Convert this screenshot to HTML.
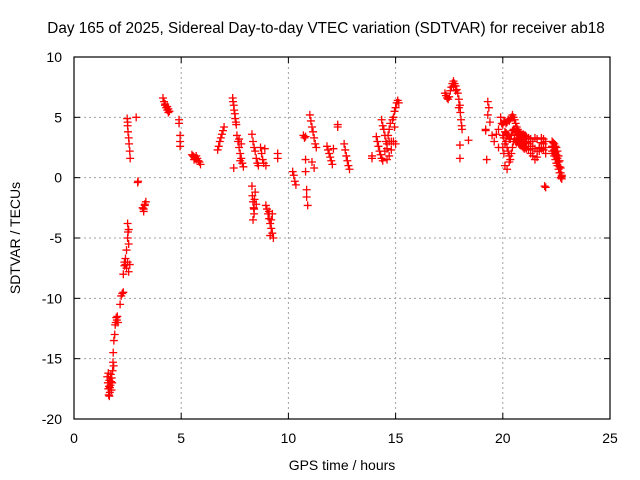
<!DOCTYPE html>
<html><head><meta charset="utf-8"><style>
html,body{margin:0;padding:0;background:#fff;}
svg{display:block;font-family:"Liberation Sans",sans-serif;}
</style></head><body>
<svg id="chart" width="640" height="480">
<text x="326" y="33" font-size="15.3" text-anchor="middle">Day 165 of 2025, Sidereal Day-to-day VTEC variation (SDTVAR) for receiver ab18</text>
<g id="grid"></g>
<g id="axes"></g>
<g id="marks"></g>
<text x="342" y="470" font-size="14" text-anchor="middle">GPS time / hours</text>
<text transform="translate(20,238) rotate(-90)" font-size="14" text-anchor="middle">SDTVAR / TECUs</text>
</svg>
<script>
const xTicks=[0,5,10,15,20,25];
const yTicks=[-20,-15,-10,-5,0,5,10];
const hours=[
1.55,1.58,1.6,1.62,1.65,1.67,1.7,1.72,1.75,1.6,1.65,1.7,1.78,1.8,1.82,1.85,1.83,1.86,1.9,1.92,1.95,1.97,2.0,2.02,2.05,1.68,1.73,1.63,1.76,
2.15,2.2,2.25,2.3,2.3,2.35,2.4,2.45,2.5,2.55,2.4,2.45,2.5,2.35,2.6,2.55,2.5,2.52,2.55,
2.48,2.5,2.52,2.55,2.57,2.6,2.62,2.5,2.9,2.97,2.99,3.2,3.25,3.3,3.35,3.3,3.25,
4.15,4.2,4.25,4.3,4.35,4.4,4.45,4.25,4.35,4.4,4.9,4.9,4.95,4.95,4.95,
5.5,5.55,5.6,5.65,5.7,5.75,5.8,5.85,5.6,5.7,5.9,
6.7,6.75,6.8,6.85,6.9,6.95,7.0,
7.4,7.42,7.45,7.47,7.5,7.52,7.55,7.57,7.6,7.65,7.7,7.75,7.8,7.85,7.9,7.7,7.8,7.75,7.45,
8.3,8.35,8.4,8.45,8.5,8.55,8.6,8.3,8.32,8.35,8.38,8.4,8.42,8.45,8.5,8.35,8.4,
8.7,8.75,8.8,8.85,8.9,8.95,8.95,9.0,9.05,9.1,9.15,9.2,9.25,9.3,9.1,9.2,9.15,9.25,9.5,9.5,
10.2,10.25,10.3,10.35,10.7,10.75,10.8,10.8,10.85,10.85,10.9,10.8,
11.0,11.05,11.1,11.15,11.2,11.25,11.3,11.1,11.2,11.8,11.85,11.9,11.95,12.0,12.05,12.1,12.3,12.3,
12.6,12.65,12.7,12.75,12.8,12.85,13.9,13.9,14.1,14.15,14.2,14.25,14.3,14.35,14.4,
14.35,14.4,14.45,14.5,14.55,14.6,14.65,14.7,14.75,14.8,14.85,14.9,14.95,15.0,15.05,15.1,15.15,14.5,14.6,14.7,14.9,15.0,14.8,14.6,14.7,14.95,
17.3,17.35,17.4,17.45,17.5,17.55,17.6,17.65,17.7,17.75,17.8,17.85,17.9,17.95,18.0,18.02,18.05,18.08,18.1,18.0,18.0,18.4,17.95,17.7,17.8,
19.3,19.35,19.3,19.4,19.2,19.25,19.2,19.5,19.6,19.7,19.8,19.9,19.95,19.8,
20.0,20.05,20.1,20.15,20.2,20.25,20.3,20.35,20.4,20.45,20.5,20.55,20.6,20.65,20.7,20.75,20.8,20.85,20.9,20.95,21.0,
20.0,20.05,20.1,20.15,20.2,20.25,20.3,20.35,20.4,20.45,20.5,20.55,20.6,20.65,20.7,20.75,20.8,20.85,20.9,20.95,21.0,
20.0,20.05,20.1,20.15,20.2,20.25,20.3,20.35,20.4,20.45,20.5,20.55,20.6,20.65,20.7,20.75,20.8,20.85,20.9,20.95,21.0,
20.1,20.2,20.3,
21.05,21.1,21.2,21.3,21.4,21.5,21.6,21.7,21.8,21.9,22.0,
21.05,21.1,21.2,21.3,21.4,21.5,21.6,21.7,21.8,21.9,22.0,
21.05,21.1,21.2,21.3,21.4,21.5,21.6,21.7,21.8,21.9,22.0,
21.95,22.0,
22.3,22.35,22.4,22.45,22.5,22.55,22.6,22.65,22.7,22.75,
22.3,22.35,22.4,22.45,22.5,22.55,22.6,22.65,22.7,22.75,
22.3,22.35,22.4,22.45,22.5,22.55,22.6,22.65,22.7,22.75
];
const tecu=[
-16.5,-17,-17.5,-18,-16.8,-17.8,-17.2,-16.3,-17.6,-16.2,-18.1,-16.6,-17,-16,-15.3,-15.6,-14.5,-13.5,-13,-12.2,-12,-11.6,-11.8,-11.5,-12,-17.4,-16.9,-17.3,-16.6,
-10.5,-9.8,-9.6,-9.5,-8,-7,-6.7,-6,-5,-4.3,-7.2,-7.5,-7,-7.3,-7.2,-7.8,-3.8,-4.5,-5.5,
4.9,4.3,3.8,3.3,2.8,2.2,1.6,4.6,5,-0.4,-0.3,-2.5,-2.8,-2.3,-2,-2.2,-2.6,
6.6,6.3,6.0,5.8,5.6,5.7,5.5,6.1,5.9,5.4,4.8,4.5,3.5,3.0,2.6,
1.9,1.8,1.7,1.6,1.5,1.6,1.4,1.3,1.5,1.8,1.1,
2.3,2.6,3.0,3.3,3.6,3.9,4.2,
6.6,6.3,6.0,5.6,5.3,4.9,4.6,4.4,3.5,3.0,2.5,2.0,1.6,1.2,0.9,3.2,2.8,1.4,0.8,
3.6,3.0,2.5,2.2,1.6,1.2,1.0,-0.7,-1.5,-2.0,-2.5,-3.0,-1.8,-1.2,-2.2,-3.5,-2.6,
2.5,2.0,1.5,1.2,2.4,1.0,-2.3,-2.6,-3.0,-3.4,-3.8,-4.2,-4.6,-5.0,-2.8,-3.5,-4.8,-3.0,2.0,1.6,
0.5,0.2,-0.3,-0.6,3.5,3.3,1.5,0.5,-1.0,-1.6,-2.3,3.4,
5.2,4.7,4.2,3.8,3.3,2.8,2.5,1.3,0.8,2.6,2.3,2.0,1.7,1.4,1.1,2.4,4.4,4.2,
2.8,2.3,1.8,1.4,1.0,0.7,1.8,1.6,3.4,3.0,2.6,2.2,1.9,1.6,1.4,
4.8,4.3,4.0,3.5,3.0,2.8,3.5,4.0,4.5,3.0,4.8,5.0,5.5,5.8,6.2,6.4,6.2,2.2,1.5,1.8,3.0,2.8,2.3,2.4,3.0,4.2,
7.0,6.8,6.6,6.5,6.7,7.2,7.5,7.8,8.0,7.8,7.6,7.3,7.0,6.5,6.0,5.4,4.8,4.3,4.0,2.7,1.6,3.1,5.8,7.6,7.2,
6.3,5.8,5.2,4.6,3.9,1.5,4.0,3.5,3.0,3.6,4.0,5.0,4.5,2.5,
4.4,4.6,4.7,4.5,4.6,4.8,4.7,4.9,5.0,5.2,5.0,4.8,4.5,4.2,4.0,3.8,3.7,3.6,3.5,3.6,3.5,
2.5,2.0,2.8,3.0,2.5,2.2,1.8,1.5,2.0,2.5,3.0,3.2,3.0,2.9,3.0,2.8,2.7,2.8,2.6,2.5,2.4,
3.5,3.3,3.8,3.7,3.6,3.5,3.2,3.2,3.5,3.9,4.0,4.0,3.8,3.6,3.5,3.3,3.2,3.2,3.0,3.0,2.9,
1.0,0.7,1.3,
3.5,3.4,3.3,3.2,3.0,3.3,3.2,2.5,3.3,3.2,3.0,
2.5,2.4,2.3,2.0,1.8,1.5,1.7,2.2,2.4,2.3,2.0,
3.0,2.9,2.8,2.6,2.4,2.4,2.2,2.4,2.9,2.8,2.5,
-0.7,-0.8,
3.0,2.9,2.8,2.6,2.5,2.2,1.8,1.4,0.8,0.2,
2.2,2.0,1.8,1.5,1.2,1.0,0.7,0.4,0.0,-0.1,
2.6,2.5,2.3,2.1,1.9,1.6,1.3,0.9,0.4,0.1
];
const X0=74,X1=610,Y0=419,Y1=57;
function xs(v){return X0+(v-0)/(25-0)*(X1-X0);}
function ys(v){return Y0-(v-(-20))/(10-(-20))*(Y0-Y1);}
const NS='http://www.w3.org/2000/svg';
const grid=document.getElementById('grid'),axes=document.getElementById('axes'),marks=document.getElementById('marks');
function mk(tag,attrs,parent){const e=document.createElementNS(NS,tag);for(const k in attrs)e.setAttribute(k,attrs[k]);parent.appendChild(e);return e;}
xTicks.forEach(t=>{
  const x=xs(t);
  if(t>0&&t<25){const g=mk('line',{x1:x,x2:x,y1:Y1,y2:Y0,stroke:'#a0a0a0','stroke-dasharray':'2,3'},grid);
  
  }
  mk('line',{x1:x,x2:x,y1:Y0,y2:Y0-6,stroke:'#000'},axes);
  mk('line',{x1:x,x2:x,y1:Y1,y2:Y1+6,stroke:'#000'},axes);
  const l=mk('text',{x:x,y:443,'font-size':14,'text-anchor':'middle'},axes);
  l.textContent=t;
  
  
});
yTicks.forEach(t=>{
  const y=ys(t);
  if(t>-20&&t<10){const g=mk('line',{x1:X0,x2:X1,y1:y,y2:y,stroke:'#a0a0a0','stroke-dasharray':'2,3'},grid);
  
  }
  mk('line',{x1:X0,x2:X0+6,y1:y,y2:y,stroke:'#000'},axes);
  mk('line',{x1:X1,x2:X1-6,y1:y,y2:y,stroke:'#000'},axes);
  const l=mk('text',{x:62,y:y+5,'font-size':14,'text-anchor':'end'},axes);
  l.textContent=t;
  
  
});
const fr=mk('rect',{x:X0,y:Y1,width:X1-X0,height:Y0-Y1,fill:'none',stroke:'#000','stroke-width':1.2},axes);


for(let i=0;i<hours.length;i++){
  const x=xs(hours[i]),y=ys(tecu[i]);
  const p=mk('path',{d:`M${x-4},${y}H${x+4}M${x},${y-4}V${y+4}`,stroke:'#ff0000','stroke-width':1.3,fill:'none'},marks);
  
  
}
</script>
</body></html>
